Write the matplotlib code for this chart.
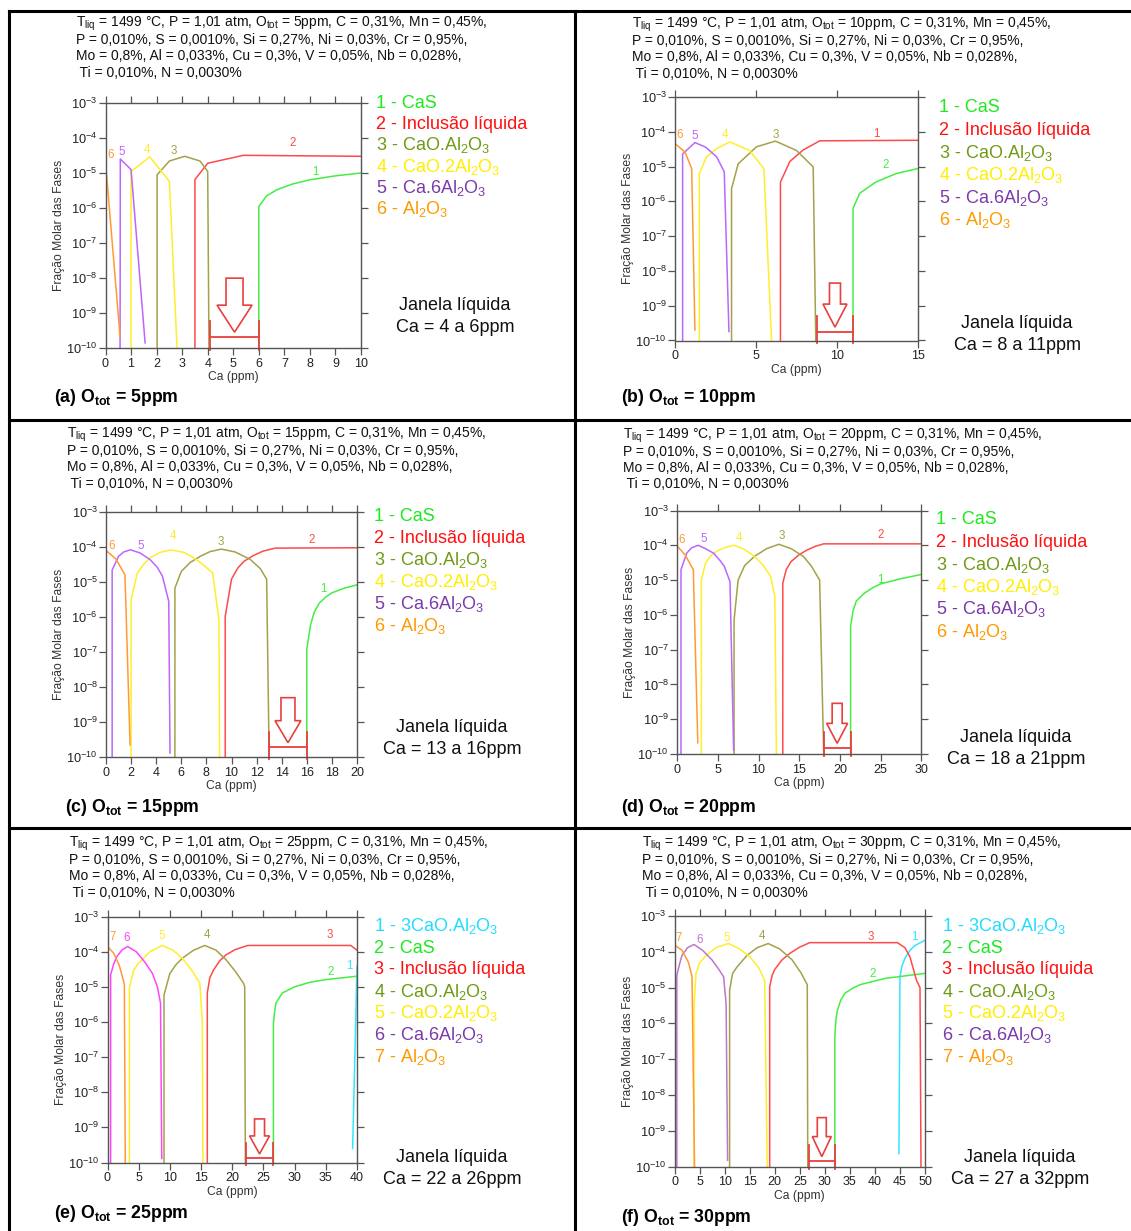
import numpy as np
import matplotlib
matplotlib.use("Agg")
import matplotlib.pyplot as plt
import matplotlib.transforms as mtransforms
from matplotlib.lines import Line2D
from matplotlib.patches import Polygon
from matplotlib.ticker import NullLocator

W, H = 1131, 1231

plt.rcParams["font.family"] = ["Liberation Sans", "DejaVu Sans"]
plt.rcParams["mathtext.fontset"] = "custom"
plt.rcParams["mathtext.rm"] = "Liberation Sans"
plt.rcParams["mathtext.it"] = "Liberation Sans:italic"
plt.rcParams["mathtext.bf"] = "Liberation Sans:bold"
plt.rcParams["mathtext.default"] = "regular"

# line colours / legend colours
C_GREEN, L_GREEN = "#44ee44", "#1ee81e"
C_RED, L_RED = "#ff4a4a", "#ff1010"
C_OLIVE, L_OLIVE = "#a3a24a", "#6f9a14"
C_YELLOW, L_YELLOW = "#ffee2a", "#ffee00"
C_PURPLE, L_PURPLE = "#bb66ff", "#7a3aaa"
C_ORANGE, L_ORANGE = "#ff9a33", "#ff9900"
C_CYAN, L_CYAN = "#33e6ff", "#22ddff"

O_TOT = [5, 10, 15, 20, 25, 30]
X_MAX = [10, 15, 20, 30, 40, 50]
X_STEP = [1, 5, 2, 5, 5, 5]
WINDOWS = [(4.1, 6.0), (8.75, 11.0), (13.0, 16.0), (18.0, 21.3), (22.15, 26.6), (26.8, 32.0)]
WINDOW_TEXT = ["4 a 6ppm", "8 a 11ppm", "13 a 16ppm", "18 a 21ppm", "22 a 26ppm", "27 a 32ppm"]
BRACKET_Y = [2.1e-10, 1.8e-10, 1.9e-10, 1.5e-10, 1.3e-10, 1.4e-10]

# (a) Otot = 5 ppm  -- (Ca ppm, molar fraction)
A_CAS = [(6.0, 1e-10), (6.0, 1.1e-6), (6.3, 2.2e-6), (6.7, 3.3e-6), (7.3, 4.8e-6), (8.0, 6.4e-6), (9.0, 8.3e-6), (10, 1e-5)]
A_LIQ = [(3.5, 1e-10), (3.5, 6.5e-6), (4.0, 1.9e-5), (5.4, 3.2e-5), (10, 3.0e-5)]
A_CA = [(2.02, 1e-10), (2.02, 8.9e-6), (2.5, 2.2e-5), (3.1, 3e-5), (3.7, 2.2e-5), (4.0, 1.1e-5), (4.05, 1e-10)]
A_CA2 = [(1.0, 1e-10), (1.0, 1.1e-5), (1.73, 2.9e-5), (2.5, 5.8e-6), (2.8, 1e-10)]
A_CA6 = [(0.57, 1e-10), (0.58, 2.5e-5), (1.0, 1.26e-5), (1.55, 1.4e-10)]
A_AL = [(0, 2.1e-5), (0.57, 2.1e-10)]
A_TAGS = [("1", 8.21, 1.1e-5), ("2", 7.31, 7.2e-5), ("3", 2.69, 4.2e-5), ("4", 1.64, 4.5e-5),
          ("5", 0.63, 3.9e-5), ("6", 0.2, 3.3e-5)]

# (b) Otot = 10 ppm (curve tags 1/2 are swapped in the original)
B_CAS = [(10.99, 1e-10), (10.99, 6.3e-7), (11.4, 1.7e-6), (12.4, 3.6e-6), (13.66, 6.3e-6), (15, 8.8e-6)]
B_LIQ = [(6.51, 1e-10), (6.51, 3.6e-6), (7.09, 1.4e-5), (7.91, 3e-5), (8.94, 5.5e-5), (15, 5.7e-5)]
B_CA = [(3.49, 1e-10), (3.49, 2.3e-6), (3.9, 1.2e-5), (5.03, 3.7e-5), (6.2, 5.4e-5), (7.5, 2.9e-5), (8.53, 9.8e-6), (8.69, 1e-10)]
B_CA2 = [(1.5, 1e-10), (1.5, 6.3e-6), (1.95, 1.9e-5), (2.57, 3.3e-5), (3.39, 5.1e-5), (4.6, 2.9e-5), (5.49, 8.7e-6), (5.96, 1e-10)]
B_CA6 = [(0.47, 1e-10), (0.47, 2.3e-5), (1.23, 4.9e-5), (1.9, 3.6e-5), (2.57, 1.9e-5), (3.04, 7.1e-6), (3.33, 1.8e-10)]
B_AL = [(0, 4.6e-5), (0.62, 2.6e-5), (1.03, 8.7e-6), (1.23, 2e-10)]
B_TAGS = [("2", 13.0, 1.1e-5), ("1", 12.4, 8.9e-5), ("3", 6.2, 7.9e-5), ("4", 3.08, 7.9e-5),
          ("5", 1.23, 7.4e-5), ("6", 0.31, 7.9e-5)]

# (c) Otot = 15 ppm
C_CAS = [(16.0, 1e-10), (16.0, 1.2e-7), (16.3, 6e-7), (16.6, 1.4e-6), (17.0, 2.5e-6), (17.5, 3.7e-6),
         (18.0, 4.9e-6), (19.0, 6.7e-6), (20, 8.3e-6)]
C_LIQ = [(9.5, 1e-10), (9.5, 1.05e-6), (10.0, 1.2e-5), (10.5, 2.5e-5), (11.0, 3.9e-5), (11.7, 5.6e-5),
         (12.5, 7.6e-5), (13.5, 9.3e-5), (20, 9.5e-5)]
C_CA = [(5.49, 1e-10), (5.49, 6.7e-6), (6.0, 2e-5), (6.7, 3.6e-5), (7.5, 5.4e-5), (8.3, 7.4e-5), (9.2, 8.7e-5),
        (10.3, 7.2e-5), (11.5, 4.4e-5), (12.3, 2.4e-5), (12.8, 1.2e-5), (13.0, 1e-10)]
C_CA2 = [(2.0, 1e-10), (2.0, 3.2e-6), (2.5, 1.8e-5), (3.0, 3.2e-5), (3.5, 4.9e-5), (4.3, 7e-5), (5.2, 8.3e-5),
         (6.2, 7e-5), (7.0, 4.9e-5), (7.8, 3e-5), (8.5, 1.8e-5), (9.0, 8.3e-7), (9.05, 1e-10)]
C_CA6 = [(0.49, 1e-10), (0.49, 2.2e-5), (1.0, 5.4e-5), (1.4, 7.2e-5), (1.95, 8.3e-5), (2.7, 6.8e-5),
         (3.5, 4.4e-5), (4.1, 2.6e-5), (4.5, 1.45e-5), (5.0, 2.8e-6), (5.1, 1.3e-10)]
C_AL = [(0, 8e-5), (0.8, 4.5e-5), (1.51, 1.6e-5), (1.92, 2.2e-10)]
C_TAGS = [("1", 17.3, 6.5e-6), ("2", 16.4, 1.55e-4), ("3", 9.15, 1.35e-4), ("4", 5.33, 2e-4),
          ("5", 2.77, 1.05e-4), ("6", 0.44, 1.1e-4)]

# (d) Otot = 20 ppm
D_CAS = [(21.3, 1e-10), (21.3, 4.6e-7), (21.6, 1.3e-6), (22.0, 2.5e-6), (23.0, 4.2e-6), (24.0, 6e-6),
         (25.0, 7.8e-6), (27.5, 1.1e-5), (30, 1.45e-5)]
D_LIQ = [(12.98, 1e-10), (12.98, 8.1e-6), (13.4, 2e-5), (14.0, 3.4e-5), (15.0, 5.4e-5), (16.0, 7.4e-5),
         (17.0, 9.4e-5), (18.0, 1.1e-4), (30, 1.1e-4)]
D_CA = [(7.0, 1e-10), (7.0, 7e-7), (7.5, 1e-5), (8.3, 2.6e-5), (9.5, 4.8e-5), (11.0, 8e-5), (12.5, 1.07e-4),
        (14.0, 8e-5), (15.5, 4.8e-5), (16.5, 2.5e-5), (17.5, 1e-5), (18.0, 1e-10)]
D_CA2 = [(2.99, 1e-10), (2.99, 1e-5), (3.5, 3.1e-5), (4.2, 5.2e-5), (5.0, 7e-5), (6.0, 8.8e-5), (7.0, 1e-4),
         (8.3, 7.6e-5), (9.5, 4.8e-5), (10.6, 2.6e-5), (11.5, 1.26e-5), (12.0, 3.4e-6), (12.2, 1e-10)]
D_CA6 = [(0.49, 1e-10), (0.49, 2e-5), (1.2, 6e-5), (1.8, 8.5e-5), (2.6, 1e-4), (3.5, 8e-5), (4.5, 5.9e-5),
         (5.3, 3.6e-5), (5.8, 2.5e-5), (6.5, 9e-6), (6.95, 1.3e-10)]
D_AL = [(0, 9.6e-5), (1.0, 5.3e-5), (2.0, 2e-5), (2.55, 2.1e-10)]
D_TAGS = [("1", 24.9, 1e-5), ("2", 25.0, 2e-4), ("3", 12.8, 1.8e-4), ("4", 7.6, 1.6e-4),
          ("5", 3.27, 1.5e-4), ("6", 0.57, 1.45e-4)]

# (e) Otot = 25 ppm
E_C3A = [(39.3, 2.5e-10), (40, 3.8e-5)]
E_CAS = [(26.6, 1e-10), (26.6, 9e-7), (26.8, 2e-6), (27.0, 3.4e-6), (28.0, 6.6e-6), (30.0, 1e-5),
         (32.5, 1.35e-5), (35.0, 1.6e-5), (40, 2e-5)]
E_LIQ = [(16.0, 1e-10), (16.0, 6.6e-6), (16.4, 1.8e-5), (17.0, 3e-5), (18.0, 5.5e-5), (19.0, 8.1e-5),
         (20.5, 1.15e-4), (22.5, 1.5e-4), (39.0, 1.5e-4), (40, 1.1e-4)]
E_CA = [(9.06, 1e-10), (9.06, 5.9e-6), (10.0, 2.4e-5), (11.0, 4.3e-5), (12.0, 6.5e-5), (13.8, 1.1e-4),
        (15.6, 1.5e-4), (17.4, 1.1e-4), (19.0, 5.9e-5), (20.6, 2.6e-5), (21.8, 1.26e-5), (22.0, 1e-5), (22.1, 1e-10)]
E_CA2 = [(3.5, 1e-10), (3.5, 9e-6), (4.2, 3e-5), (5.0, 4.7e-5), (6.8, 1e-4), (8.8, 1.5e-4), (10.5, 1.1e-4),
         (12.0, 6.5e-5), (13.6, 2.8e-5), (14.8, 1.26e-5), (15.2, 1e-6), (15.3, 1e-10)]
E_CA6 = [(0.5, 1e-10), (0.5, 2.2e-5), (1.0, 4.5e-5), (1.5, 7.2e-5), (2.3, 1.1e-4), (3.2, 1.4e-4), (4.6, 1e-4),
         (6.0, 5e-5), (7.2, 2.4e-5), (8.0, 1e-5), (8.5, 3.4e-6), (8.7, 1.3e-10)]
E_AL = [(0, 1.4e-4), (1.0, 9e-5), (1.9, 4e-5), (2.7, 1.2e-5), (2.85, 1e-10)]
E_TAGS = [("1", 38.8, 3.8e-5), ("2", 35.7, 2.7e-5), ("3", 35.6, 3e-4), ("4", 16.0, 3e-4),
          ("5", 8.7, 2.8e-4), ("6", 3.0, 2.4e-4), ("7", 0.77, 2.6e-4)]

# (f) Otot = 30 ppm
F_C3A = [(44.8, 2.3e-10), (45.0, 2e-5), (45.4, 4e-5), (46.0, 6.6e-5), (47.0, 1.1e-4), (48.0, 1.5e-4), (50, 2.1e-4)]
F_CAS = [(32.0, 1e-10), (32.0, 4.3e-7), (32.2, 1.2e-6), (32.5, 2.3e-6), (33.2, 4.5e-6), (34.0, 6.9e-6),
         (35.5, 9.5e-6), (37.0, 1.2e-5), (42.0, 1.8e-5), (50, 2.5e-5)]
F_LIQ = [(19.0, 1e-10), (19.0, 1.07e-5), (19.5, 2.2e-5), (20.0, 3.2e-5), (21.5, 6e-5), (23.0, 9e-5),
         (25.0, 1.35e-4), (27.0, 1.8e-4), (44.5, 1.8e-4), (46.0, 1.3e-4), (47.0, 7.2e-5), (48.3, 1.6e-5),
         (49.0, 1e-5), (49.2, 1e-10)]
F_CA = [(11.0, 1e-10), (11.0, 8.5e-6), (11.6, 2.5e-5), (12.5, 3.8e-5), (14.5, 8e-5), (16.5, 1.3e-4),
        (18.7, 1.7e-4), (21.0, 1.2e-4), (23.5, 5.9e-5), (25.3, 2.5e-5), (26.5, 1.2e-5), (26.6, 1e-10)]
F_CA2 = [(3.9, 1e-10), (3.9, 3e-6), (4.3, 2.5e-5), (5.0, 4.8e-5), (6.5, 8.5e-5), (8.5, 1.35e-4), (10.8, 1.7e-4),
         (13.0, 1.2e-4), (15.0, 7.3e-5), (16.8, 3.6e-5), (18.0, 1.6e-5), (18.5, 1e-10)]
F_CA6 = [(0.47, 1e-10), (0.47, 2.2e-5), (1.0, 4.5e-5), (1.5, 8e-5), (2.6, 1.3e-4), (3.9, 1.6e-4), (5.6, 1.1e-4),
         (7.5, 5.9e-5), (8.8, 3.3e-5), (9.8, 2e-5), (10.3, 3.6e-6), (10.6, 1.5e-10)]
F_AL = [(0, 1.55e-4), (1.5, 1.1e-4), (2.8, 5e-5), (3.5, 2e-5), (4.0, 1e-10)]
F_TAGS = [("1", 47.9, 2.6e-4), ("2", 39.5, 2.4e-5), ("3", 39.2, 2.6e-4), ("4", 17.4, 2.75e-4),
          ("5", 10.4, 2.4e-4), ("6", 5.1, 2.1e-4), ("7", 0.8, 2.4e-4)]

LEGEND_6 = ["1 - CaS", "2 - Inclusão líquida", "3 - CaO.Al$_2$O$_3$", "4 - CaO.2Al$_2$O$_3$",
            "5 - Ca.6Al$_2$O$_3$", "6 - Al$_2$O$_3$"]
LEGEND_7 = ["1 - 3CaO.Al$_2$O$_3$", "2 - CaS", "3 - Inclusão líquida", "4 - CaO.Al$_2$O$_3$",
            "5 - CaO.2Al$_2$O$_3$", "6 - Ca.6Al$_2$O$_3$", "7 - Al$_2$O$_3$"]
LEG_COLORS_6 = [L_GREEN, L_RED, L_OLIVE, L_YELLOW, L_PURPLE, L_ORANGE]
LEG_COLORS_7 = [L_CYAN] + LEG_COLORS_6

# layout in pixels: axes (left, right, top, bottom), legend (x, y0, dy), janela (x, y0), title (x, y), header (x, y0)
AXES_PX = [(105.5, 361, 103, 348), (675, 918, 97, 340.5), (106, 357, 512, 757),
           (677, 921.5, 510.5, 754), (107.5, 357, 916.5, 1162.5), (674.5, 925, 916, 1166.5)]
LEG_PX = [(376, 103, 21.2), (939, 108, 22.4), (374, 516.5, 21.9), (936, 520, 22.3), (374, 926.5, 21.7), (942.5, 926.5, 21.7)]
JAN_PX = [(455, 306), (1017, 324), (452, 727), (1016, 738), (452, 1158), (1020, 1158)]
TITLE_PX = [(54, 398), (621, 398), (65, 808), (621, 808), (54, 1213), (621, 1218)]
HEAD_PX = [(75.5, 24), (632.5, 25), (67, 435), (623, 435.5), (69, 844), (641.5, 844)]
ARROW_PX = [(17, 35, 27, 27), (11, 24, 21, 23), (14, 26, 23, 22), (10, 21, 20, 20), (10, 20, 17, 18), (9, 19, 19, 20)]

fig = plt.figure(figsize=(W / 100, H / 100), dpi=100)


def fx(x):
    return x / W


def fy(y):
    return 1 - y / H


def draw_panel(i, curves, tags, legend, leg_colors):
    l, r, t, b = AXES_PX[i]
    ax = fig.add_axes([fx(l), fy(b), (r - l) / W, (b - t) / H])
    ax.set_yscale("log")
    for pts, color in curves:
        p = np.array(pts)
        ax.plot(p[:, 0], p[:, 1], color=color, lw=1.1, solid_joinstyle="round")
    for (txt, x, y), (_, c) in zip(tags, curves):
        ax.text(x, y, txt, color=c, fontsize=8.3, ha="center", va="center")
    ax.set_xlim(0, X_MAX[i])
    ax.set_ylim(1e-10, 1e-3)
    ax.set_xticks(np.arange(0, X_MAX[i] + 0.01, X_STEP[i]))
    ax.set_yticks([10.0 ** k for k in range(-10, -2)])
    ax.yaxis.set_minor_locator(NullLocator())
    ax.tick_params(direction="out", top=True, right=True, length=5, width=0.9, color="#555555",
                   labelcolor="#222222", pad=2)
    ax.tick_params(axis="x", labelsize=9)
    ax.tick_params(axis="y", labelsize=9.2, pad=1)
    for s in ax.spines.values():
        s.set_color("#555555")
        s.set_linewidth(1.0)
    ax.set_xlabel("Ca (ppm)", fontsize=8.7, color="#333333", labelpad=1)
    ax.set_ylabel("Fração Molar das Fases", fontsize=8.7, color="#333333", labelpad=1)

    # janela liquida bracket + arrow
    lo, hi = WINDOWS[i]
    yb = BRACKET_Y[i]
    ax.plot([lo, hi], [yb, yb], color="#e8403f", lw=1.3)
    for xv in (lo, hi):
        ax.plot([xv, xv], [0.85e-10, yb * 2.8], color="#e8403f", lw=1.3, clip_on=False)
    sw, hw = ARROW_PX[i][0] / 2, ARROW_PX[i][1] / 2
    sl, hl = ARROW_PX[i][2], ARROW_PX[i][3]
    verts = [(0, 0), (hw, hl), (sw, hl), (sw, hl + sl), (-sw, hl + sl), (-sw, hl), (-hw, hl)]
    tr = mtransforms.Affine2D().scale(fig.dpi / 100) + mtransforms.ScaledTranslation(
        (lo + hi) / 2, yb * 1.35, ax.transData)
    ax.add_patch(Polygon(verts, closed=True, fc="white", ec="#e8403f", lw=1.2, transform=tr,
                         clip_on=False, zorder=5))

    # legend text
    lx, ly, dy = LEG_PX[i]
    for k, (txt, c) in enumerate(zip(legend, leg_colors)):
        fig.text(fx(lx), fy(ly + k * dy), txt, color=c, fontsize=13, ha="left", va="center")
    jx, jy = JAN_PX[i]
    fig.text(fx(jx), fy(jy), "Janela líquida", fontsize=13, ha="center", va="center", color="#111111")
    fig.text(fx(jx), fy(jy + 22), "Ca = " + WINDOW_TEXT[i], fontsize=13, ha="center", va="center",
             color="#111111")
    tx, ty = TITLE_PX[i]
    fig.text(fx(tx), fy(ty), f"({'abcdef'[i]}) O$_{{tot}}$ = {O_TOT[i]}ppm", fontsize=12.7,
             fontweight="bold", ha="left", va="center")
    hx, hy = HEAD_PX[i]
    head = [f"T$_{{liq}}$ = 1499 °C, P = 1,01 atm, O$_{{tot}}$ = {O_TOT[i]}ppm, C = 0,31%, Mn = 0,45%,",
            "P = 0,010%, S = 0,0010%, Si = 0,27%, Ni = 0,03%, Cr = 0,95%,",
            "Mo = 0,8%, Al = 0,033%, Cu = 0,3%, V = 0,05%, Nb = 0,028%,",
            " Ti = 0,010%, N = 0,0030%"]
    for k, line in enumerate(head):
        fig.text(fx(hx), fy(hy + k * 16.2), line, fontsize=10, ha="left", va="center", color="#111111")
    return ax


six = [C_GREEN, C_RED, C_OLIVE, C_YELLOW, C_PURPLE, C_ORANGE]
draw_panel(0, list(zip([A_CAS, A_LIQ, A_CA, A_CA2, A_CA6, A_AL], six)), A_TAGS, LEGEND_6, LEG_COLORS_6)
draw_panel(1, list(zip([B_CAS, B_LIQ, B_CA, B_CA2, B_CA6, B_AL], six)), B_TAGS, LEGEND_6, LEG_COLORS_6)
draw_panel(2, list(zip([C_CAS, C_LIQ, C_CA, C_CA2, C_CA6, C_AL], six)), C_TAGS, LEGEND_6, LEG_COLORS_6)
draw_panel(3, list(zip([D_CAS, D_LIQ, D_CA, D_CA2, D_CA6, D_AL], six)), D_TAGS, LEGEND_6, LEG_COLORS_6)
seven_e = [C_CYAN, C_GREEN, C_RED, C_OLIVE, C_YELLOW, "#ff44ff", C_ORANGE]
seven_f = [C_CYAN, C_GREEN, C_RED, C_OLIVE, C_YELLOW, "#bb77cc", C_ORANGE]
draw_panel(4, list(zip([E_C3A, E_CAS, E_LIQ, E_CA, E_CA2, E_CA6, E_AL], seven_e)), E_TAGS,
           LEGEND_7, LEG_COLORS_7)
draw_panel(5, list(zip([F_C3A, F_CAS, F_LIQ, F_CA, F_CA2, F_CA6, F_AL], seven_f)), F_TAGS,
           LEGEND_7, LEG_COLORS_7)

# table borders
for x0, y0, x1, y1 in [(9, 11, W, 11), (9, 11, 9, H), (575, 11, 575, H), (9, 420, W, 420), (9, 828, W, 828)]:
    fig.add_artist(Line2D([fx(x0), fx(x1)], [fy(y0), fy(y1)], color="black", lw=2.2))

fig.savefig("out.png", dpi=100, facecolor="white")
